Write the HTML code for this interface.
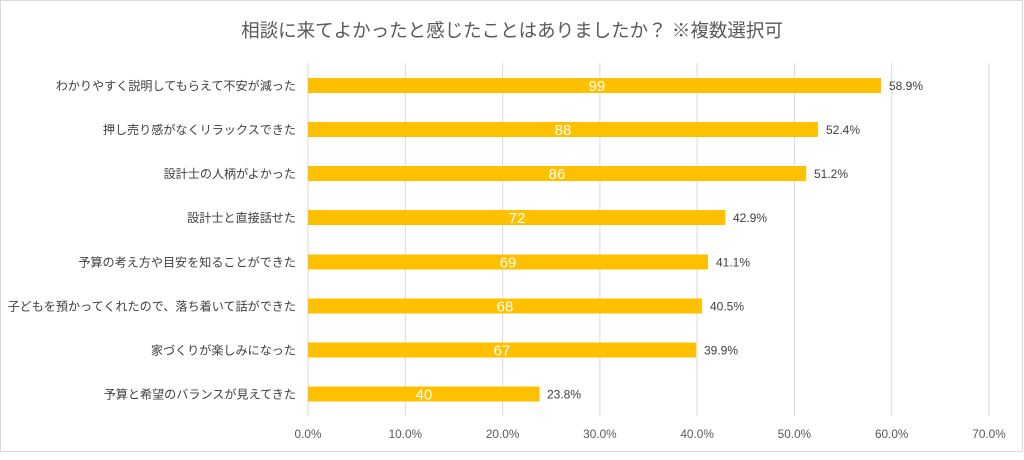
<!DOCTYPE html>
<html><head><meta charset="utf-8"><style>
body{margin:0;background:#fff;}
svg text{font-family:"Liberation Sans","Noto Sans CJK JP",sans-serif;}
</style></head><body>
<svg width="1024" height="455" xmlns="http://www.w3.org/2000/svg">
<rect x="0.5" y="0.5" width="1022" height="451" fill="#fff" stroke="#d9d9d9"/>
<text x="512" y="37" font-size="18.5" fill="#595959" text-anchor="middle">相談に来てよかったと感じたことはありましたか？ ※複数選択可</text>
<g stroke="#d9d9d9" stroke-width="1">
<line x1="308" y1="63" x2="308" y2="416"/><line x1="405.3" y1="63" x2="405.3" y2="416"/>
<line x1="502.6" y1="63" x2="502.6" y2="416"/><line x1="599.9" y1="63" x2="599.9" y2="416"/>
<line x1="697.1" y1="63" x2="697.1" y2="416"/><line x1="794.4" y1="63" x2="794.4" y2="416"/>
<line x1="891.7" y1="63" x2="891.7" y2="416"/><line x1="989" y1="63" x2="989" y2="416"/>
</g>
<g font-size="11.8" fill="#595959" text-anchor="middle">
<text x="308" y="438">0.0%</text><text x="405.3" y="438">10.0%</text><text x="502.6" y="438">20.0%</text><text x="599.9" y="438">30.0%</text><text x="697.1" y="438">40.0%</text><text x="794.4" y="438">50.0%</text><text x="891.7" y="438">60.0%</text><text x="989" y="438">70.0%</text>
</g>
<g fill="#ffc000">
<rect x="308" y="78" width="573.1" height="15"/>
<rect x="308" y="122" width="509.9" height="15"/>
<rect x="308" y="166" width="498.2" height="15"/>
<rect x="308" y="210" width="417.4" height="15"/>
<rect x="308" y="254.5" width="399.9" height="15"/>
<rect x="308" y="298.5" width="394.1" height="15"/>
<rect x="308" y="342.5" width="388.2" height="15"/>
<rect x="308" y="386.5" width="231.6" height="15"/>
</g>
<g font-size="15" fill="#fff" text-anchor="middle">
<text x="597" y="91">99</text><text x="563" y="135">88</text><text x="557" y="179">86</text><text x="517" y="223">72</text>
<text x="508" y="267.5">69</text><text x="505" y="311.5">68</text><text x="502" y="355.5">67</text><text x="424" y="399.5">40</text>
</g>
<g font-size="12" fill="#404040">
<text x="889" y="90">58.9%</text><text x="826" y="134">52.4%</text><text x="814" y="178">51.2%</text><text x="733" y="222">42.9%</text>
<text x="716" y="266.5">41.1%</text><text x="710" y="310.5">40.5%</text><text x="704" y="354.5">39.9%</text><text x="547" y="398.5">23.8%</text>
</g>
<g font-size="12.1" fill="#404040" text-anchor="end">
<text x="296" y="90">わかりやすく説明してもらえて不安が減った</text>
<text x="296" y="134">押し売り感がなくリラックスできた</text>
<text x="296" y="178">設計士の人柄がよかった</text>
<text x="296" y="222">設計士と直接話せた</text>
<text x="296" y="266.5">予算の考え方や目安を知ることができた</text>
<text x="296" y="310.5">子どもを預かってくれたので、落ち着いて話ができた</text>
<text x="296" y="354.5">家づくりが楽しみになった</text>
<text x="296" y="398.5">予算と希望のバランスが見えてきた</text>
</g>
</svg>
</body></html>
